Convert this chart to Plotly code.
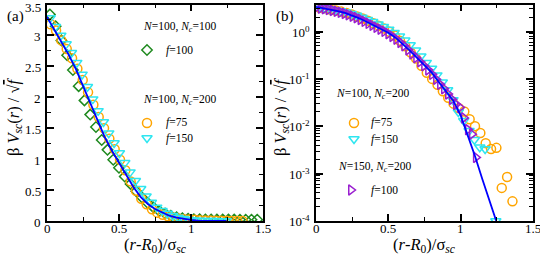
import math
import plotly.graph_objects as go

# ---------------- data ----------------
# fitted theory curve (blue line)
curve_x = [0.0, 0.05, 0.10, 0.15, 0.20, 0.25, 0.30, 0.35, 0.40, 0.45, 0.50, 0.55, 0.60,
           0.65, 0.70, 0.75, 0.80, 0.85, 0.90, 0.95, 1.00, 1.05, 1.10, 1.15, 1.20, 1.246]
curve_y = [3.30, 3.10, 2.90, 2.69, 2.46, 2.18, 1.90, 1.61, 1.36, 1.14, 0.94, 0.74, 0.55,
           0.39, 0.275, 0.195, 0.135, 0.085, 0.054, 0.034, 0.017, 0.0063, 0.0023, 0.00076,
           0.00026, 0.0001]

# N=100, Nc=100, f=100 (green diamonds, left panel)
f100a_x = [0.02, 0.06, 0.10, 0.14, 0.18, 0.22, 0.26, 0.30, 0.34, 0.38, 0.42, 0.46, 0.50,
           0.54, 0.58, 0.62, 0.66, 0.70, 0.74, 0.78, 0.82, 0.86, 0.90, 0.94, 0.98, 1.02,
           1.06, 1.10, 1.14, 1.18, 1.22, 1.26, 1.30, 1.34, 1.38, 1.42, 1.46]
f100a_y = [3.34, 3.15, 2.92, 2.68, 2.44, 2.18, 1.95, 1.72, 1.52, 1.31, 1.15, 0.99, 0.86,
           0.72, 0.60, 0.48, 0.38, 0.29, 0.22, 0.16, 0.12, 0.085, 0.06, 0.045, 0.035, 0.03,
           0.028, 0.026, 0.025, 0.024, 0.024, 0.023, 0.023, 0.022, 0.022, 0.022, 0.022]

# N=100, Nc=200, f=75 (orange circles)
f75_x = [0.026, 0.063, 0.100, 0.137, 0.174, 0.211, 0.248, 0.285, 0.322, 0.359, 0.396,
         0.433, 0.470, 0.507, 0.544, 0.581, 0.618, 0.655, 0.692, 0.729, 0.766, 0.803,
         0.840, 0.877, 0.914, 0.951, 0.988, 1.025, 1.062, 1.099, 1.136, 1.173, 1.210,
         1.247, 1.284, 1.321, 1.358]
f75_y = [3.18, 3.08, 2.92, 2.78, 2.63, 2.46, 2.28, 2.08, 1.88, 1.68, 1.50, 1.33, 1.16,
         0.99, 0.82, 0.64, 0.49, 0.36, 0.27, 0.19, 0.135, 0.10, 0.075, 0.055, 0.040,
         0.030, 0.024, 0.0205, 0.014, 0.010, 0.0072, 0.0044, 0.0033, 0.0035, 0.0005,
         0.00085, 0.00026]

# N=100, Nc=200, f=150 (cyan triangles)
f150_x = [0.022, 0.059, 0.096, 0.133, 0.170, 0.207, 0.244, 0.281, 0.318, 0.355, 0.392,
          0.429, 0.466, 0.503, 0.540, 0.577, 0.614, 0.651, 0.688, 0.725, 0.762, 0.799,
          0.836, 0.873, 0.910, 0.947, 0.984, 1.021, 1.058, 1.095, 1.132, 1.169, 1.206,
          1.243]
f150_y = [3.28, 3.14, 3.00, 2.86, 2.72, 2.56, 2.37, 2.17, 1.97, 1.78, 1.60, 1.42, 1.26,
          1.10, 0.94, 0.79, 0.65, 0.52, 0.40, 0.30, 0.22, 0.165, 0.12, 0.085, 0.058,
          0.036, 0.020, 0.013, 0.008, 0.0052, 0.0036, 0.0033, 0.0, 0.0001]

# N=150, Nc=200, f=100 (purple triangles, right panel)
f100b_x = [0.005, 0.0325, 0.06, 0.0875, 0.115, 0.1425, 0.17, 0.1975, 0.225, 0.2525, 0.28,
           0.3075, 0.335, 0.3625, 0.39, 0.4175, 0.445, 0.4725, 0.50, 0.5275, 0.555,
           0.5825, 0.61, 0.6375, 0.665, 0.6925, 0.72, 0.7475, 0.775, 0.8025, 0.83,
           0.8575, 0.885, 0.9125, 0.94, 0.9675, 0.995, 1.0225, 1.05, 1.0775, 1.105]
f100b_y = [3.25, 3.12, 3.02, 2.91, 2.79, 2.67, 2.54, 2.41, 2.26, 2.11, 1.96, 1.80, 1.64,
           1.49, 1.36, 1.23, 1.12, 1.01, 0.90, 0.79, 0.69, 0.59, 0.50, 0.41, 0.335, 0.28,
           0.23, 0.19, 0.155, 0.125, 0.098, 0.077, 0.062, 0.048, 0.037, 0.029, 0.025,
           0.015, 0.0085, 0.0068, 0.0022]

# tick labels
x_tickvals = [0, 0.5, 1, 1.5]
x_ticktext = ["0", "0.5", "1", "1.5"]
lin_tickvals = [0, 0.5, 1, 1.5, 2, 2.5, 3, 3.5]
lin_ticktext = ["0", "0.5", "1", "1.5", "2", "2.5", "3", "3.5"]
log_tickvals = [1e-4, 1e-3, 1e-2, 1e-1, 1]
log_ticktext = ["10<sup>-4</sup>", "10<sup>-3</sup>", "10<sup>-2</sup>", "10<sup>-1</sup>", "10<sup>0</sup>"]

# ---------------- style ----------------
FONT = "Liberation Serif"
GREEN = "#1f8a1f"
ORANGE = "#ffa500"
CYAN = "#2ee6f0"
PURPLE = "#9a1fd0"
BLUE = "#0000ff"
W, H = 540, 258

minor_log = [m * 10 ** e for e in range(-4, 1) for m in range(2, 10)]

fig = go.Figure()

def add_series(x, y, sym, col, size, xa, ya, name):
    fig.add_trace(go.Scatter(x=x, y=y, mode="markers", name=name, xaxis=xa, yaxis=ya,
                             marker=dict(symbol=sym, size=size, color=col,
                                         line=dict(color=col, width=1.5)),
                             showlegend=False))

# left panel
add_series(f100a_x, f100a_y, "diamond-open", GREEN, 8, "x", "y", "f=100")
add_series(f75_x, f75_y, "circle-open", ORANGE, 9, "x", "y", "f=75")
add_series(f150_x, f150_y, "triangle-down-open", CYAN, 9, "x", "y", "f=150")
fig.add_trace(go.Scatter(x=curve_x, y=curve_y, mode="lines", xaxis="x", yaxis="y",
                         line=dict(color=BLUE, width=1.8), showlegend=False))
# right panel
add_series(f75_x, f75_y, "circle-open", ORANGE, 9, "x2", "y2", "f=75")
add_series(f150_x, f150_y, "triangle-down-open", CYAN, 9, "x2", "y2", "f=150")
add_series(f100b_x, f100b_y, "triangle-right-open", PURPLE, 9, "x2", "y2", "f=100")
fig.add_trace(go.Scatter(x=curve_x, y=curve_y, mode="lines", xaxis="x2", yaxis="y2",
                         line=dict(color=BLUE, width=1.8), showlegend=False))

# legend symbols on a full-figure pixel axis
leg = [(147, 50, "diamond-open", GREEN, 8),
       (147, 123, "circle-open", ORANGE, 9),
       (147, 138, "triangle-down-open", CYAN, 9),
       (354, 123, "circle-open", ORANGE, 9),
       (354, 139, "triangle-down-open", CYAN, 9),
       (351, 190, "triangle-right-open", PURPLE, 9)]
for lx, ly, s, c, sz in leg:
    fig.add_trace(go.Scatter(x=[lx], y=[ly], mode="markers", xaxis="x3", yaxis="y3",
                             marker=dict(symbol=s, size=sz, color=c, line=dict(color=c, width=1.5)),
                             showlegend=False, hoverinfo="skip"))

axis_common = dict(showline=True, linecolor="black", linewidth=1.6, mirror="allticks",
                   ticks="inside", ticklen=7, tickwidth=1.5, tickcolor="black",
                   showgrid=False, zeroline=False, showticklabels=False)
minor_lin = dict(dtick=0.25, ticks="inside", ticklen=4, tickwidth=1.2, tickcolor="black")

fig.update_layout(
    width=W, height=H, autosize=False,
    margin=dict(l=0, r=0, t=0, b=0),
    plot_bgcolor="rgba(0,0,0,0)", paper_bgcolor="white",
    font=dict(family=FONT, color="black"),
    xaxis=dict(domain=[47 / W, 263 / W], range=[0, 1.5], dtick=0.5, anchor="y",
               minor=minor_lin, **axis_common),
    yaxis=dict(domain=[1 - 221 / H, 1 - 4.5 / H], range=[0, 3.5], dtick=0.5, anchor="x",
               minor=minor_lin, **axis_common),
    xaxis2=dict(domain=[316 / W, 533 / W], range=[0, 1.5], dtick=0.5, anchor="y2",
                minor=minor_lin, **axis_common),
    yaxis2=dict(domain=[1 - 221 / H, 1 - 4.5 / H], type="log", range=[-4, 0.57], anchor="x2",
                tickmode="array", tickvals=log_tickvals,
                minor=dict(tickmode="array", tickvals=minor_log, ticks="inside", ticklen=4,
                           tickwidth=1.2, tickcolor="black"),
                **axis_common),
    xaxis3=dict(domain=[0, 1], range=[0, W], visible=False, anchor="y3", fixedrange=True),
    yaxis3=dict(domain=[0, 1], range=[H, 0], visible=False, anchor="x3", fixedrange=True),
)

def ann(px, py, text, size=11.5, angle=0, xanchor="left"):
    fig.add_annotation(x=px / W, y=1 - py / H, xref="paper", yref="paper", text=text,
                       showarrow=False, textangle=angle, xanchor=xanchor, yanchor="middle",
                       font=dict(family=FONT, size=size, color="black"))

# tick labels
TICK = dict(family=FONT, size=13, color="black")
for xr in ("x", "x2"):
    for v, t in zip(x_tickvals, x_ticktext):
        fig.add_annotation(x=v, y=1 - 228 / H, xref=xr, yref="paper", text=t, showarrow=False,
                           xanchor="center", yanchor="middle", font=TICK)
top_val = max(lin_tickvals)
for v, t in zip(lin_tickvals, lin_ticktext):
    fig.add_annotation(x=43 / W, y=v, xref="paper", yref="y", text=t, showarrow=False,
                       xanchor="right", yanchor="middle", font=TICK,
                       yshift=(-3 if v == top_val else -1))
for v, t in zip(log_tickvals, log_ticktext):
    fig.add_annotation(x=312 / W, y=math.log10(v), xref="paper", yref="y2", text=t,
                       showarrow=False, xanchor="right", yanchor="middle", font=TICK)

NN = "<i>N</i>=100, <i>N</i><sub><i>c</i></sub>="
ann(141, 27, NN + "100")
ann(164, 50, "<i>f</i>=100")
ann(141, 100, NN + "200")
ann(164, 123, "<i>f</i>=75")
ann(164, 138, "<i>f</i>=150")

ann(334, 94, NN + "200")
ann(369, 123, "<i>f</i>=75")
ann(369, 139, "<i>f</i>=150")
ann(336, 167, "<i>N</i>=150, <i>N</i><sub><i>c</i></sub>=200")
ann(369, 190, "<i>f</i>=100")

ann(15, 16, "(a)", size=15, xanchor="center")
ann(285, 16, "(b)", size=15, xanchor="center")

ytitle = "β <i>V</i><sub><i>sc</i></sub>(<i>r</i>) / √<span style='text-decoration:overline'><i>f</i></span>"
xtitle = "(<i>r</i>-<i>R</i><sub>0</sub>)/σ<sub><i>sc</i></sub>"
ann(14, 117, ytitle, size=16.5, angle=-90, xanchor="center")
ann(281, 117, ytitle, size=16.5, angle=-90, xanchor="center")
ann(155, 245, xtitle, size=16.5, xanchor="center")
ann(424, 245, xtitle, size=16.5, xanchor="center")

fig.write_html("out.html", config={"displayModeBar": False},
               post_script="document.body.style.margin='0px';")
